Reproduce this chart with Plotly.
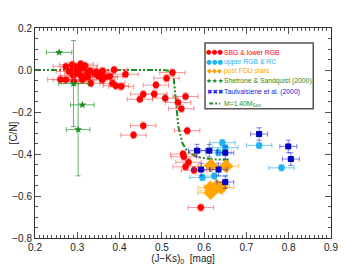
import plotly.graph_objects as go

# SBG & lower RGB (red)
red_x = [0.26, 0.273, 0.288, 0.308, 0.316, 0.28, 0.30, 0.324, 0.34, 0.355, 0.387, 0.414,
         0.273, 0.292, 0.312, 0.332, 0.359, 0.383, 0.391, 0.404, 0.377, 0.29, 0.305, 0.33,
         0.345, 0.36, 0.31, 0.29, 0.325, 0.35, 0.365, 0.297, 0.318,
         0.486, 0.511, 0.525, 0.456, 0.482, 0.448, 0.508, 0.556, 0.538, 0.546, 0.456,
         0.433, 0.56, 0.55, 0.552, 0.556, 0.563, 0.576, 0.592]
red_y = [-0.045, 0.017, 0.025, 0.028, 0.009, -0.007, -0.015, -0.015, -0.015, -0.018, 0.001, -0.02,
         -0.047, -0.055, -0.047, -0.063, -0.047, -0.063, -0.075, -0.079, -0.031, 0.005, 0.0, -0.005,
         -0.01, -0.005, -0.03, -0.025, -0.035, -0.03, -0.035, 0.015, 0.02,
         -0.072, -0.039, -0.012, -0.115, -0.114, -0.139, -0.134, -0.126, -0.155, -0.184, -0.265,
         -0.31, -0.289, -0.40, -0.413, -0.461, -0.439, -0.477, -0.655]
red_xerr = [0.03] * len(red_x)
red_yerr = [0.017] * len(red_x)

# upper RGB & RC (light blue)
lb_x = [0.643, 0.634, 0.65, 0.624, 0.596, 0.73, 0.783]
lb_y = [-0.346, -0.394, -0.37, -0.505, -0.512, -0.359, -0.466]
lb_xerr = [0.03] * len(lb_x)
lb_yerr = [0.015] * len(lb_x)

# post FDU stars (orange)
or_x = [0.616, 0.652, 0.615, 0.63, 0.62, 0.64, 0.615]
or_y = [-0.455, -0.458, -0.56, -0.553, -0.575, -0.56, -0.585]
or_xerr = [0.03] * len(or_x)
or_yerr = [0.015] * len(or_x)

# Shetrone & Sandquist (2000) (green stars)
gr_x = [0.257, 0.291, 0.312, 0.302]
gr_y = [0.084, -0.065, -0.166, -0.284]
gr_xerr = [0.03, 0.035, 0.028, 0.028]
gr_yerr = [0.0, 0.205, 0.0, 0.22]

# Tautvaisiene et al. (2000) (blue crosses)
bl_x = [0.583, 0.612, 0.65, 0.593, 0.634, 0.65, 0.73, 0.799, 0.805]
bl_y = [-0.384, -0.384, -0.394, -0.474, -0.474, -0.534, -0.305, -0.364, -0.424]
bl_xerr = [0.02] * len(bl_x)
bl_yerr = [0.03] * len(bl_x)

# Model M=1.40 Msun
mod_x = [0.2, 0.5, 0.52, 0.527, 0.533, 0.539, 0.549, 0.558, 0.567, 0.588, 0.62, 0.66]
mod_y = [0.0, 0.0, -0.004, -0.02, -0.142, -0.27, -0.35, -0.38, -0.397, -0.416, -0.425, -0.428]

# legend entries: (symbol text, label, colour)
legend_labels = ["SBG &amp; lower RGB", "upper RGB &amp; RC", "post FDU stars",
                 "Shetrone &amp; Sandquist (2000)", "Tautvaisiene et al. (2000)", "M=1.40M<sub>Sun</sub>"]
legend_symbols = ["●●●", "●●●", "◆◆◆", "★★★", "✖✖✖", ""]
legend_colors = ["#ff0000", "#1eb4f0", "#ffa500", "#1e8c1e", "#2020e0", "#1e8c1e"]
legend_rows_y = [0.084, 0.040, -0.006, -0.054, -0.105, -0.160]

RED, LB, OR, GR, BL = legend_colors[0], legend_colors[1], legend_colors[2], legend_colors[3], "#0000ee"
DASH = "6px,2px,2px,2px,2px,2px"

def eb(arr, color):
    return dict(type="data", array=arr, color=color, thickness=1, width=2.5)

fig = go.Figure()
fig.add_trace(go.Scatter(
    x=mod_x, y=mod_y, mode="lines", name="M=1.40Msun",
    line=dict(color=GR, width=2, dash=DASH)))
fig.add_trace(go.Scatter(
    x=red_x, y=red_y, mode="markers", name="SBG & lower RGB",
    marker=dict(color=RED, size=6.5),
    error_x=eb(red_xerr, "rgba(255,60,60,0.55)"), error_y=eb(red_yerr, "rgba(255,60,60,0.55)")))
fig.add_trace(go.Scatter(
    x=lb_x, y=lb_y, mode="markers", name="upper RGB & RC",
    marker=dict(color=LB, size=6.5),
    error_x=eb(lb_xerr, "rgba(30,170,230,0.6)"), error_y=eb(lb_yerr, "rgba(30,170,230,0.6)")))
fig.add_trace(go.Scatter(
    x=or_x, y=or_y, mode="markers", name="post FDU stars",
    marker=dict(color=OR, size=11, symbol="diamond"),
    error_x=eb(or_xerr, "rgba(255,165,0,0.6)"), error_y=eb(or_yerr, "rgba(255,165,0,0.6)")))
fig.add_trace(go.Scatter(
    x=gr_x, y=gr_y, mode="markers", name="Shetrone & Sandquist (2000)",
    marker=dict(color=GR, size=6, symbol="star"),
    error_x=eb(gr_xerr, "rgba(40,150,40,0.7)"), error_y=eb(gr_yerr, "rgba(40,150,40,0.7)")))
fig.add_trace(go.Scatter(
    x=bl_x, y=bl_y, mode="markers", name="Tautvaisiene et al. (2000)",
    marker=dict(color=BL, size=5, symbol="square-x", line=dict(color="#0000aa", width=1)),
    error_x=eb(bl_xerr, "rgba(40,40,230,0.6)"), error_y=eb(bl_yerr, "rgba(40,40,230,0.6)")))

# custom IDL-style legend
LEG_X0, LEG_X1, LEG_Y0, LEG_Y1 = 0.602, 0.858, -0.185, 0.128
fig.add_shape(type="rect", xref="x", yref="y", x0=LEG_X0, x1=LEG_X1, y0=LEG_Y0, y1=LEG_Y1,
              line=dict(color="#555555", width=1.5), fillcolor="white", layer="above")
for sym, lab, col, yy in zip(legend_symbols, legend_labels, legend_colors, legend_rows_y):
    if sym:
        fig.add_annotation(x=0.6245, y=yy, xref="x", yref="y", text=sym, showarrow=False,
                           xanchor="center", yanchor="middle",
                           font=dict(size=6.5, color=col, family="DejaVu Sans"))
    else:
        fig.add_shape(type="line", xref="x", yref="y", x0=0.612, x1=0.638, y0=yy, y1=yy,
                      line=dict(color=col, width=2, dash="4px,2px,2px,2px"), layer="above")
    fig.add_annotation(x=0.643, y=yy, xref="x", yref="y", text=lab, showarrow=False,
                       xanchor="left", yanchor="middle",
                       font=dict(size=6.8, color=col))

axis_common = dict(showgrid=False, zeroline=False, showline=True, linecolor="#333333", linewidth=1,
                   mirror="ticks", ticks="inside", tickcolor="#555555", ticklen=6,
                   tickfont=dict(size=10, color="#222222"))

fig.update_layout(
    width=339, height=270,
    margin=dict(l=27, r=16, t=20, b=40, autoexpand=False),
    paper_bgcolor="white", plot_bgcolor="white",
    font=dict(family="Liberation Sans, Arial, sans-serif", size=10, color="#222222"),
    showlegend=False,
    xaxis=dict(range=[0.2, 0.9], dtick=0.1, tick0=0.2, tickformat=".1f",
               title=dict(text="(J−Ks)<sub>0</sub>  [mag]", font=dict(size=10), standoff=0),
               minor=dict(dtick=0.01, ticks="inside", ticklen=3, tickcolor="#555555"),
               **axis_common),
    yaxis=dict(range=[-0.8, 0.2], dtick=0.2, tick0=0, tickformat=".1f",
               title=dict(text="[C/N]", font=dict(size=10), standoff=2),
               minor=dict(dtick=0.05, ticks="inside", ticklen=3, tickcolor="#555555"),
               **axis_common),
)

fig.write_html("out.html")
